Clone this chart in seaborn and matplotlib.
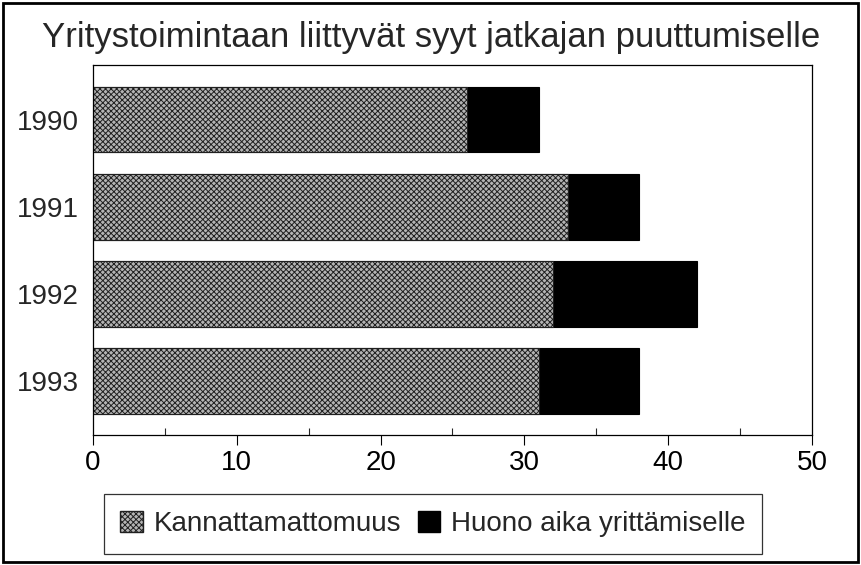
import matplotlib
matplotlib.use("Agg")
import matplotlib.pyplot as plt
import matplotlib.patches as mpatches
import seaborn as sns
import pandas as pd

years = ["1990", "1991", "1992", "1993"]
kannattamattomuus = [26, 33, 32, 31]
huono_aika = [5, 5, 10, 7]

title = "Yritystoimintaan liittyvät syyt jatkajan puuttumiselle"
labels = ["Kannattamattomuus", "Huono aika yrittämiselle"]

sns.set_style("white")
plt.rcParams["font.family"] = ["Liberation Sans", "DejaVu Sans"]
plt.rcParams["hatch.linewidth"] = 0.7
plt.rcParams["hatch.color"] = "#202020"

df = pd.DataFrame({"year": years, "k": kannattamattomuus, "h": huono_aika})
df["total"] = df["k"] + df["h"]

fig = plt.figure(figsize=(8.62, 5.65), dpi=100)
ax = fig.add_axes([93 / 862, 1 - 435 / 565, (812 - 93) / 862, (435 - 65) / 565])

# black bars at full length, grey hatched first series drawn over them
sns.barplot(data=df, x="total", y="year", order=years, color="black",
            width=0.75, saturation=1, edgecolor="black", linewidth=0.8, ax=ax)
n_first = len(ax.patches)
sns.barplot(data=df, x="k", y="year", order=years, color="#b4b4b4",
            width=0.75, saturation=1, edgecolor="#202020", linewidth=0.8, ax=ax)
for p in ax.patches[n_first:]:
    p.set_hatch("xxxxxx")

ax.set_xlim(0, 50)
ax.set_ylim(3.62, -0.63)
ax.set_xticks(range(0, 51, 10))
ax.set_xticks(range(5, 50, 10), minor=True)
ax.tick_params(axis="x", which="major", direction="out", length=7, width=0.8,
               labelsize=20, colors="black", pad=4, bottom=True)
ax.tick_params(axis="x", which="minor", direction="in", length=5, width=0.8,
               bottom=True)
ax.tick_params(axis="y", which="major", direction="out", length=0, labelsize=20,
               pad=10)
ax.set_xlabel("")
ax.set_ylabel("")
for s in ax.spines.values():
    s.set_visible(True)
    s.set_color("black")
    s.set_linewidth(0.9)

fig.text(0.5, 1 - 38 / 565, title, ha="center", va="center", fontsize=25)

handles = [
    mpatches.Patch(facecolor="#b4b4b4", edgecolor="#202020", hatch="xxxxxx",
                   label=labels[0]),
    mpatches.Patch(facecolor="black", edgecolor="black", label=labels[1]),
]
leg = fig.legend(handles=handles, loc="center", ncol=2,
                 bbox_to_anchor=(433 / 862, 1 - 524 / 565), fontsize=20,
                 frameon=True, fancybox=False, edgecolor="black",
                 handlelength=0.8, handleheight=0.8, handletextpad=0.4,
                 columnspacing=0.6, borderpad=0.6, borderaxespad=0)
leg.get_frame().set_linewidth(0.9)

fig.add_artist(mpatches.Rectangle((3 / 862, 3 / 565), 855 / 862, 559 / 565,
                                  transform=fig.transFigure, fill=False,
                                  edgecolor="black", linewidth=2))

fig.savefig("out.png", dpi=100)
